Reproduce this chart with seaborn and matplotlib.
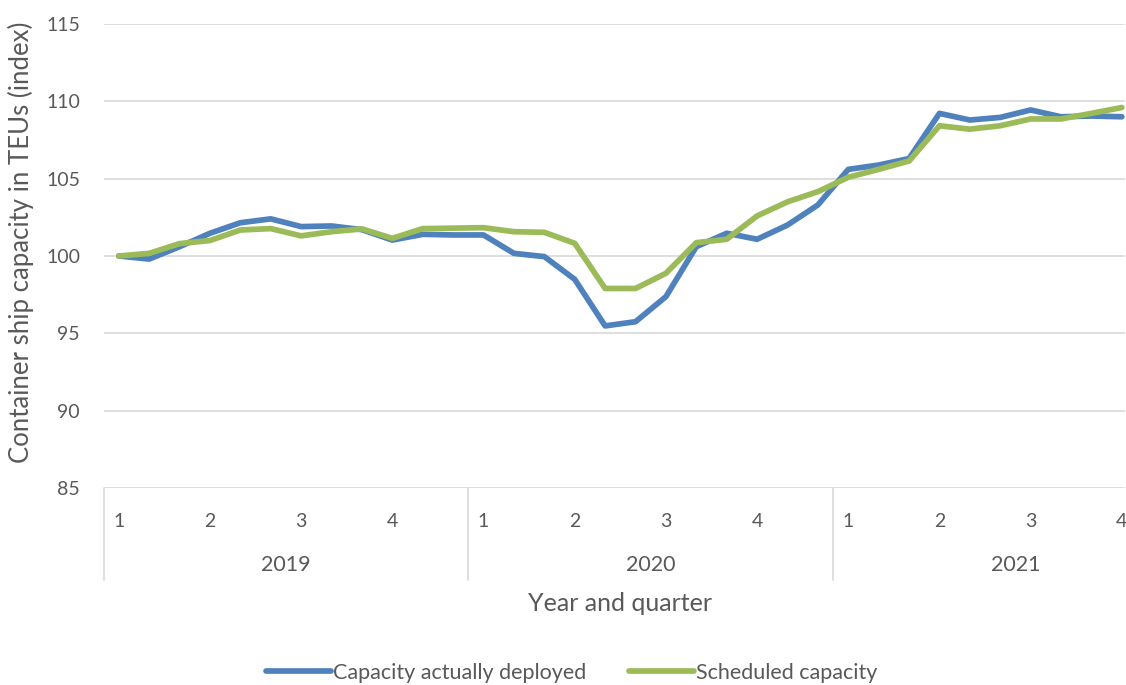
import pandas as pd
import matplotlib.pyplot as plt
import matplotlib.transforms as mtransforms
import seaborn as sns

# Monthly index values, Jan 2019 = 100
deployed = [100.0, 99.8, 100.6, 101.47, 102.15, 102.4, 101.9, 101.94, 101.7, 101.03, 101.4, 101.36,
            101.36, 100.17, 99.96, 98.49, 95.48, 95.75, 97.37, 100.6, 101.47, 101.08, 102.0, 103.3,
            105.6, 105.88, 106.3, 109.22, 108.79, 108.96, 109.44, 109.0, 109.05, 109.0]
scheduled = [100.0, 100.17, 100.8, 101.0, 101.68, 101.77, 101.3, 101.57, 101.75, 101.14, 101.77, 101.8,
             101.83, 101.57, 101.53, 100.82, 97.9, 97.9, 98.88, 100.86, 101.08, 102.59, 103.5, 104.16,
             105.09, 105.6, 106.14, 108.42, 108.2, 108.42, 108.86, 108.86, 109.22, 109.6]
quarter_labels = ['1', '2', '3', '4'] * 3
years = ['2019', '2020', '2021']
series_names = ['Capacity actually deployed', 'Scheduled capacity']

n = len(deployed)
df = pd.DataFrame({
    'month': list(range(n)) * 2,
    'value': deployed + scheduled,
    'series': [series_names[0]] * n + [series_names[1]] * n,
})

sns.set_theme(style='white')
plt.rcParams['font.family'] = ['Lato', 'DejaVu Sans']
grey = '#595959'

fig = plt.figure(figsize=(11.26, 6.85), dpi=100)
ax = fig.add_axes([0.092, 0.2876, 0.907, 0.6774])

sns.lineplot(data=df, x='month', y='value', hue='series',
             palette=['#4F81BD', '#9BBB59'], linewidth=4.1, ax=ax, legend=False)

ax.set_xlim(-0.5, 33.1)
ax.set_ylim(85, 115)
ax.set_yticks(range(85, 116, 5))
ax.yaxis.grid(True, color='#d9d9d9', linewidth=1.2)
ax.set_axisbelow(True)
for s in ax.spines.values():
    s.set_visible(False)

ax.tick_params(axis='y', length=0, pad=17, labelsize=14, labelcolor=grey)
ax.set_xticks([y * 12 + q * 3 for y in range(3) for q in range(4)])
ax.set_xticklabels(quarter_labels)
ax.tick_params(axis='x', length=0, pad=18, labelsize=14, labelcolor=grey)
ax.set_xlabel('')
ax.set_ylabel('Container ship capacity in TEUs (index)', fontsize=18.5, color=grey)
ax.yaxis.set_label_coords(-0.068, 0.53)

# category axis year dividers and labels
trans = mtransforms.blended_transform_factory(ax.transData, ax.transAxes)
for xd in [-0.5, 11.5, 23.5]:
    ax.plot([xd, xd], [0, -0.198], transform=trans, color='#d9d9d9', linewidth=1.2, clip_on=False)
for i, yr in enumerate(years):
    ax.text(i * 12 + 5.5, -0.166, yr, transform=trans, ha='center', va='center',
            fontsize=15.5, color=grey)
ax.text(16.5, -0.248, 'Year and quarter', transform=trans, ha='center', va='center',
        fontsize=18, color=grey)

handles = [plt.Line2D([], [], color=c, linewidth=4.1) for c in ['#4F81BD', '#9BBB59']]
leg = fig.legend(handles, series_names, loc='center', bbox_to_anchor=(0.508, 0.0175), ncol=2,
                 frameon=False, fontsize=15.5, handlelength=3.0, handletextpad=0.1, columnspacing=2.0)
for t in leg.get_texts():
    t.set_color(grey)

fig.savefig('out.png', dpi=100)
